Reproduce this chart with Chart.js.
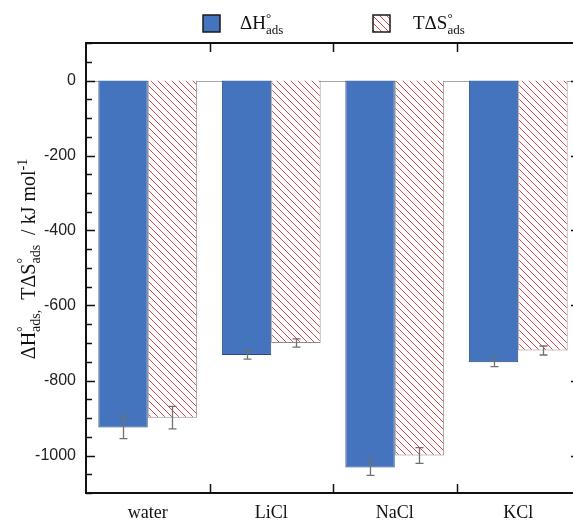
<!DOCTYPE html>
<html>
<head>
<meta charset="utf-8">
<script src="https://cdn.jsdelivr.net/npm/chart.js@4"></script>
<style>
  html, body { margin: 0; padding: 0; background: #fff; overflow: hidden; width: 573px; height: 523px; }
  #wrap { width: 582px; height: 523px; }
</style>
</head>
<body>
<div id="wrap"><canvas id="c" width="582" height="523"></canvas></div>
<script>
// Adsorption enthalpy and entropy term by medium (kJ/mol)
const categories = ['water', 'LiCl', 'NaCl', 'KCl'];
const enthalpy = [-925, -732, -1032, -751];
const enthalpyErr = [30, 11, 21, 12];
const entropyTerm = [-899, -700, -1000, -720];
const entropyErr = [30, 11, 21, 12];
const yTickValues = [0, -200, -400, -600, -800, -1000];
const yMinorStep = 50;
const yMin = -1100, yMax = 100;

const SERIF = '"Liberation Serif", "Times New Roman", serif';
const BLUE = '#4474bd';

// red diagonal hatch on white
function makeHatch() {
  const s = 7;
  const c = document.createElement('canvas');
  c.width = s; c.height = s;
  const g = c.getContext('2d');
  g.fillStyle = '#fff';
  g.fillRect(0, 0, s, s);
  g.strokeStyle = '#d8474b';
  g.lineWidth = 1;
  g.beginPath();
  for (const k of [-s, 0, s]) { g.moveTo(k, 0); g.lineTo(k + s, s); }
  g.stroke();
  return g.createPattern(c, 'repeat');
}
const ctx = document.getElementById('c').getContext('2d');
const hatch = makeHatch();

// text with stacked superscript / subscript pieces
function rich(g, runs, x, y, base, draw) {
  let cx = x;
  const small = Math.round(base * 0.68);
  for (const r of runs) {
    if (r.t !== undefined) {
      g.font = base + 'px ' + SERIF;
      if (draw) g.fillText(r.t, cx, y);
      cx += g.measureText(r.t).width;
    } else {
      g.font = small + 'px ' + SERIF;
      let w = 0;
      if (r.sup) { if (draw) g.fillText(r.sup, cx, y - base * 0.38); w = Math.max(w, g.measureText(r.sup).width); }
      if (r.sub) { if (draw) g.fillText(r.sub, cx, y + base * 0.26); w = Math.max(w, g.measureText(r.sub).width); }
      cx += w;
    }
  }
  return cx - x;
}

const decorations = {
  id: 'decorations',
  beforeDatasetsDraw(chart) {
    const g = chart.ctx;
    const { left, right } = chart.chartArea;
    const y = chart.scales.y;
    // zero line
    g.save();
    g.strokeStyle = '#a8a8a8';
    g.lineWidth = 1;
    const y0 = Math.round(y.getPixelForValue(0)) + 0.5;
    g.beginPath(); g.moveTo(left, y0); g.lineTo(right, y0); g.stroke();
    g.restore();
  },
  afterDatasetsDraw(chart) {
    const g = chart.ctx;
    const { left, right, top, bottom } = chart.chartArea;
    const x = chart.scales.x, y = chart.scales.y;
    g.save();
    // error bars
    g.strokeStyle = '#707070';
    g.lineWidth = 1.3;
    chart.data.datasets.forEach((ds, di) => {
      const meta = chart.getDatasetMeta(di);
      meta.data.forEach((bar, i) => {
        const v = ds.data[i], e = ds.errors[i];
        const ya = y.getPixelForValue(v + e), yb = y.getPixelForValue(v - e);
        const bx = Math.round(bar.x) + 0.5;
        g.beginPath();
        g.moveTo(bx, ya); g.lineTo(bx, yb);
        g.moveTo(bx - 4, ya); g.lineTo(bx + 4, ya);
        g.moveTo(bx - 4, yb); g.lineTo(bx + 4, yb);
        g.stroke();
      });
    });
    // frame
    g.strokeStyle = '#111';
    g.lineWidth = 2;
    g.strokeRect(left, top, right - left, bottom - top);
    // y ticks, inward
    g.lineWidth = 1.5;
    g.beginPath();
    for (let v = yMax; v >= yMin; v -= yMinorStep) {
      const major = yTickValues.includes(v);
      const py = Math.round(y.getPixelForValue(v)) + 0.5;
      const len = major ? 9 : 6;
      g.moveTo(left, py); g.lineTo(left + len, py);
      if (major) { g.moveTo(right, py); g.lineTo(right - len, py); }
    }
    // category boundary ticks, inward on top and bottom
    for (let i = 1; i < categories.length; i++) {
      const px = Math.round((x.getPixelForValue(i - 1) + x.getPixelForValue(i)) / 2) + 0.5;
      g.moveTo(px, top); g.lineTo(px, top + 9);
      g.moveTo(px, bottom); g.lineTo(px, bottom - 9);
    }
    g.stroke();
    g.restore();
  },
  afterDraw(chart) {
    const g = chart.ctx;
    g.save();
    g.textBaseline = 'alphabetic';
    // legend
    g.fillStyle = BLUE;
    g.fillRect(203, 15, 17, 17);
    g.fillStyle = hatch;
    g.fillRect(373, 15, 17, 17);
    g.strokeStyle = '#1a1a1a';
    g.lineWidth = 1.5;
    g.strokeRect(203, 15, 17, 17);
    g.strokeRect(373, 15, 17, 17);
    g.fillStyle = '#111';
    rich(g, [{ t: 'ΔH' }, { sup: '°', sub: 'ads' }], 240, 29, 19, true);
    rich(g, [{ t: 'TΔS' }, { sup: '°', sub: 'ads' }], 413, 29, 19, true);
    // y axis title
    const runs = [{ t: 'ΔH' }, { sup: '°', sub: 'ads,' }, { t: '  TΔS' }, { sup: '°', sub: 'ads' }, { t: '  / kJ mol' }, { sup: '-1' }];
    const base = 20;
    const w = rich(g, runs, 0, 0, base, false);
    g.translate(35, 259);
    g.rotate(-Math.PI / 2);
    rich(g, runs, -w / 2, 0, base, true);
    g.restore();
  }
};

new Chart(ctx, {
  type: 'bar',
  data: {
    labels: categories,
    datasets: [
      { label: 'ΔH°ads', data: enthalpy, errors: enthalpyErr, backgroundColor: BLUE, borderColor: '#2c4a78', borderWidth: 1 },
      { label: 'TΔS°ads', data: entropyTerm, errors: entropyErr, backgroundColor: hatch, borderColor: '#8c8c8c', borderWidth: 1 }
    ]
  },
  options: {
    responsive: false,
    animation: false,
    devicePixelRatio: 1,
    layout: { padding: { top: 43, right: 2, left: 0, bottom: 0 } },
    datasets: { bar: { categoryPercentage: 0.8, barPercentage: 1 } },
    plugins: { legend: { display: false }, tooltip: { enabled: false } },
    scales: {
      x: {
        grid: { display: false },
        border: { display: false },
        ticks: { font: { family: SERIF, size: 18 }, color: '#111', padding: 1 },
        afterFit(s) { s.height = 30; }
      },
      y: {
        min: yMin, max: yMax,
        afterBuildTicks(s) { s.ticks = yTickValues.map(v => ({ value: v })); },
        grid: { display: false, drawTicks: false },
        border: { display: false },
        ticks: {
          font: { family: '"Liberation Sans", Arial, sans-serif', size: 16 }, color: '#222', padding: 10,
          callback: v => String(v)
        },
        afterFit(s) { s.width = 86; }
      }
    }
  },
  plugins: [decorations]
});
</script>
</body>
</html>
